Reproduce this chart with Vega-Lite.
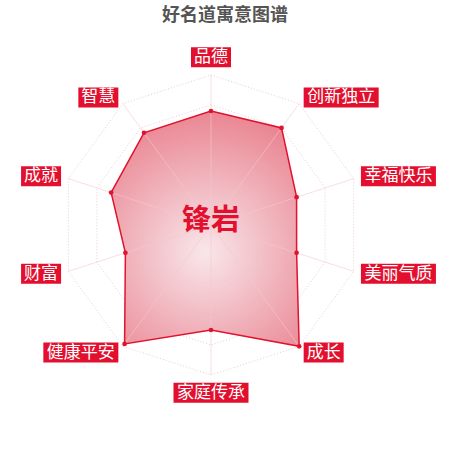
{
  "$schema": "https://vega.github.io/schema/vega-lite/v6.json",
  "width": 450,
  "height": 450,
  "padding": 0,
  "autosize": {"type": "none"},
  "background": "white",
  "config": {"view": {"stroke": null}},
  "title": {"text": "好名道寓意图谱", "font": "Noto Sans CJK SC", "fontSize": 18, "fontWeight": "bold", "color": "#555555", "anchor": "middle", "frame": "group", "offset": -25},
  "datasets": {
    "axes": [
      {"name": "品德", "i": 0, "value": 0.76},
      {"name": "创新独立", "i": 1, "value": 0.80},
      {"name": "幸福快乐", "i": 2, "value": 0.60},
      {"name": "美丽气质", "i": 3, "value": 0.60},
      {"name": "成长", "i": 4, "value": 1.0},
      {"name": "家庭传承", "i": 5, "value": 0.70},
      {"name": "健康平安", "i": 6, "value": 0.98},
      {"name": "财富", "i": 7, "value": 0.60},
      {"name": "成就", "i": 8, "value": 0.70},
      {"name": "智慧", "i": 9, "value": 0.76}
    ],
    "rings": [
      {"level": 0.2, "i": [0, 1, 2, 3, 4, 5, 6, 7, 8, 9]},
      {"level": 0.4, "i": [0, 1, 2, 3, 4, 5, 6, 7, 8, 9]},
      {"level": 0.6, "i": [0, 1, 2, 3, 4, 5, 6, 7, 8, 9]},
      {"level": 0.8, "i": [0, 1, 2, 3, 4, 5, 6, 7, 8, 9]},
      {"level": 1.0, "i": [0, 1, 2, 3, 4, 5, 6, 7, 8, 9]}
    ],
    "center": [{"t": "锋岩"}]
  },
  "encoding": {
    "x": {"field": "px", "type": "quantitative", "scale": {"domain": [-1.40667, 1.59333], "nice": false, "zero": false}, "axis": null},
    "y": {"field": "py", "type": "quantitative", "scale": {"domain": [-1.5, 1.5], "nice": false, "zero": false}, "axis": null}
  },
  "layer": [
    {
      "data": {"name": "rings"},
      "transform": [
        {"flatten": ["i"]},
        {"calculate": "datum.i * PI / 5", "as": "a"},
        {"calculate": "datum.level * sin(datum.a)", "as": "px"},
        {"calculate": "datum.level * cos(datum.a)", "as": "py"}
      ],
      "mark": {"type": "line", "interpolate": "linear-closed", "stroke": "#e8cdd2", "strokeWidth": 1, "strokeDash": [1, 2]},
      "encoding": {
        "detail": {"field": "level", "type": "nominal"},
        "order": {"field": "i", "type": "quantitative"}
      }
    },
    {
      "data": {"name": "axes"},
      "transform": [
        {"calculate": "datum.i * PI / 5", "as": "a"},
        {"calculate": "datum.value * sin(datum.a)", "as": "px"},
        {"calculate": "datum.value * cos(datum.a)", "as": "py"}
      ],
      "mark": {
        "type": "line",
        "interpolate": "linear-closed",
        "fill": {"gradient": "radial", "x1": 0.5, "y1": 0.6, "r1": 0, "x2": 0.5, "y2": 0.6, "r2": 0.65, "stops": [{"offset": 0, "color": "#f8e4e8"}, {"offset": 1, "color": "#e6707f"}]},
        "fillOpacity": 0.9,
        "stroke": "#e2122f",
        "strokeWidth": 1.5
      },
      "encoding": {
        "order": {"field": "i", "type": "quantitative"}
      }
    },
    {
      "data": {"name": "axes"},
      "transform": [
        {"calculate": "datum.i * PI / 5", "as": "a"},
        {"calculate": "sin(datum.a)", "as": "px"},
        {"calculate": "cos(datum.a)", "as": "py"}
      ],
      "mark": {"type": "rule", "stroke": "#f4c8d0", "strokeWidth": 1, "opacity": 0.6},
      "encoding": {
        "x2": {"datum": 0},
        "y2": {"datum": 0}
      }
    },
    {
      "data": {"name": "axes"},
      "transform": [
        {"calculate": "datum.i * PI / 5", "as": "a"},
        {"calculate": "datum.value * sin(datum.a)", "as": "px"},
        {"calculate": "datum.value * cos(datum.a)", "as": "py"}
      ],
      "mark": {"type": "point", "filled": true, "size": 22, "color": "#e2122f", "opacity": 1}
    },
    {
      "data": {"name": "axes"},
      "transform": [
        {"calculate": "datum.i * PI / 5", "as": "a"},
        {"calculate": "length(datum.name)", "as": "len"},
        {"calculate": "datum.len == 2 ? 40 : 75", "as": "w"},
        {"calculate": "abs(sin(datum.a)) < 0.01 ? 0 : (sin(datum.a) > 0 ? 1 : -1)", "as": "hs"},
        {"calculate": "abs(sin(datum.a)) < 0.01 ? (cos(datum.a) > 0 ? 1 : -1) : 0", "as": "vs"},
        {"calculate": "1.051 * sin(datum.a) + datum.hs * datum.w / 300", "as": "px"},
        {"calculate": "1.051 * cos(datum.a) + datum.vs * 10 / 150", "as": "py"}
      ],
      "layer": [
        {
          "mark": {"type": "point", "filled": true, "size": 400, "color": "#e2102e", "opacity": 1, "strokeWidth": 0},
          "encoding": {
            "shape": {"field": "len", "type": "nominal", "scale": {"domain": [2, 4], "range": ["M-2,-1H2V1H-2Z", "M-3.75,-1H3.75V1H-3.75Z"]}, "legend": null}
          }
        },
        {
          "mark": {"type": "text", "font": "Noto Sans CJK SC", "fontSize": 17, "color": "#ffffff", "align": "center", "baseline": "middle", "dy": 0},
          "encoding": {
            "text": {"field": "name", "type": "nominal"}
          }
        }
      ]
    },
    {
      "data": {"name": "center"},
      "transform": [
        {"calculate": "0", "as": "px"},
        {"calculate": "0", "as": "py"}
      ],
      "mark": {"type": "text", "font": "Noto Sans CJK SC", "fontSize": 29, "fontWeight": "bold", "color": "#e2102e", "align": "center", "baseline": "middle", "dy": -4},
      "encoding": {
        "text": {"field": "t", "type": "nominal"}
      }
    }
  ]
}
